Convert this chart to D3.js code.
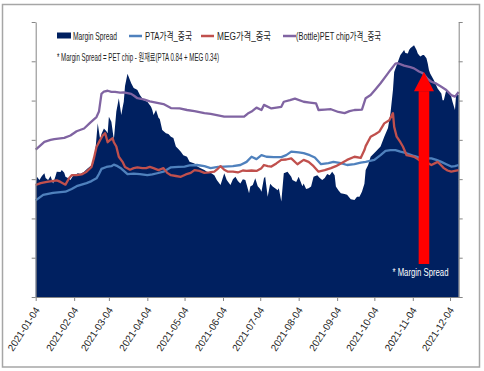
<!DOCTYPE html>
<html>
<head>
<meta charset="utf-8">
<script src="https://cdn.jsdelivr.net/npm/d3@7"></script>
<style>
body { margin: 0; background: #fff; }
text { font-family: "Liberation Sans", "Noto Sans CJK KR", sans-serif; }
</style>
</head>
<body>
<div id="chart"></div>
<script>
// values (no axis labels in the source, so units are relative)
let marginSpread = [
["2021-01-04",2850],["2021-01-05",3060],["2021-01-07",2980],["2021-01-09",3080],["2021-01-11",3150],["2021-01-12",3030],
["2021-01-14",2980],["2021-01-16",3080],["2021-01-18",2890],["2021-01-20",3080],["2021-01-21",3190],["2021-01-24",3180],
["2021-01-25",3230],["2021-01-27",3160],["2021-01-28",3060],["2021-01-30",3030],["2021-02-01",2980],["2021-02-03",3080],
["2021-02-07",3150],["2021-02-09",3130],["2021-02-12",3190],["2021-02-15",3280],["2021-02-17",3330],["2021-02-19",3360],
["2021-02-20",3490],["2021-02-21",3700],["2021-02-23",4420],["2021-02-25",4000],["2021-02-26",4150],["2021-02-28",4290],
["2021-03-02",4220],["2021-03-03",4170],["2021-03-04",4590],["2021-03-06",4460],["2021-03-08",4000],["2021-03-10",4720],
["2021-03-11",4890],["2021-03-12",5060],["2021-03-14",4630],["2021-03-15",4810],["2021-03-16",4970],["2021-03-17",5370],
["2021-03-19",5680],["2021-03-22",5440],["2021-03-24",5320],["2021-03-26",5290],["2021-03-27",5270],["2021-03-29",5140],
["2021-04-01",5010],["2021-04-04",4970],["2021-04-07",4840],["2021-04-08",4760],["2021-04-09",4630],["2021-04-11",4760],
["2021-04-13",4560],["2021-04-14",4530],["2021-04-16",4250],["2021-04-19",4170],["2021-04-21",4150],["2021-04-23",4080],
["2021-04-25",4050],["2021-04-27",3830],["2021-04-29",3770],["2021-05-01",3700],["2021-05-03",3610],["2021-05-06",3570],
["2021-05-08",3440],["2021-05-12",3400],["2021-05-14",3330],["2021-05-17",3280],["2021-05-20",3230],["2021-05-22",3190],
["2021-05-25",3160],["2021-05-28",3100],["2021-05-30",2980],["2021-06-02",2850],["2021-06-05",3150],["2021-06-07",2980],
["2021-06-10",2850],["2021-06-12",3000],["2021-06-14",3060],["2021-06-16",2950],["2021-06-18",2890],["2021-06-20",3000],
["2021-06-22",2980],["2021-06-25",2640],["2021-06-26",2810],["2021-06-28",2850],["2021-06-30",3020],["2021-07-02",2820],
["2021-07-04",2750],["2021-07-05",2680],["2021-07-07",3020],["2021-07-08",3060],["2021-07-10",2550],["2021-07-12",2880],
["2021-07-14",2810],["2021-07-16",2770],["2021-07-18",2720],["2021-07-19",2770],["2021-07-21",2430],["2021-07-23",3150],
["2021-07-26",3190],["2021-07-29",3060],["2021-07-30",2980],["2021-08-02",2930],["2021-08-04",3060],["2021-08-07",2820],
["2021-08-08",2890],["2021-08-10",2750],["2021-08-12",2770],["2021-08-14",2810],["2021-08-16",3060],["2021-08-19",3100],
["2021-08-21",3030],["2021-08-23",2980],["2021-08-25",3030],["2021-08-27",3130],["2021-08-29",3100],["2021-08-31",3190],
["2021-09-02",3100],["2021-09-03",2810],["2021-09-05",2720],["2021-09-07",2640],["2021-09-10",2620],["2021-09-12",2600],
["2021-09-15",2490],["2021-09-18",2470],["2021-09-20",2550],["2021-09-22",2550],["2021-09-24",2680],["2021-09-26",2880],
["2021-09-27",3230],["2021-09-29",3360],["2021-10-01",3570],["2021-10-05",3700],["2021-10-09",3830],["2021-10-12",4080],
["2021-10-15",4300],["2021-10-17",4680],["2021-10-19",5270],["2021-10-20",5730],["2021-10-23",5990],["2021-10-25",6160],
["2021-10-27",6240],["2021-10-28",6290],["2021-10-29",6210],["2021-10-31",6200],["2021-11-01",6290],["2021-11-02",6330],
["2021-11-05",6410],["2021-11-07",6290],["2021-11-08",6200],["2021-11-10",6120],["2021-11-12",6160],["2021-11-13",6160],
["2021-11-15",6080],["2021-11-16",5950],["2021-11-17",5780],["2021-11-18",5690],["2021-11-21",5520],["2021-11-24",5310],
["2021-11-27",5180],["2021-11-28",5010],["2021-11-29",5010],["2021-12-01",5270],["2021-12-02",5270],["2021-12-05",5100],
["2021-12-06",4970],["2021-12-08",4760],["2021-12-09",5180],["2021-12-11",5140]
];

let ptaPrice = [
["2021-01-04",2460],["2021-01-10",2600],["2021-01-13",2620],["2021-01-18",2650],["2021-01-24",2670],["2021-01-28",2680],
["2021-02-02",2750],["2021-02-06",2820],["2021-02-10",2860],["2021-02-14",2900],["2021-02-18",2950],["2021-02-22",3020],
["2021-02-24",3130],["2021-02-26",3260],["2021-03-02",3310],["2021-03-06",3330],["2021-03-08",3370],["2021-03-11",3330],
["2021-03-14",3270],["2021-03-19",3130],["2021-03-24",3140],["2021-03-29",3130],["2021-04-04",3100],["2021-04-08",3120],
["2021-04-12",3150],["2021-04-17",3190],["2021-04-23",3300],["2021-04-29",3310],["2021-05-04",3320],["2021-05-08",3350],
["2021-05-14",3360],["2021-05-20",3330],["2021-05-25",3280],["2021-05-31",3310],["2021-06-05",3320],["2021-06-12",3330],
["2021-06-18",3360],["2021-06-23",3440],["2021-06-27",3570],["2021-07-01",3510],["2021-07-05",3610],["2021-07-09",3570],
["2021-07-15",3560],["2021-07-21",3560],["2021-07-25",3610],["2021-07-29",3700],["2021-08-04",3680],["2021-08-08",3660],
["2021-08-13",3610],["2021-08-17",3550],["2021-08-22",3380],["2021-08-28",3410],["2021-09-01",3440],["2021-09-07",3410],
["2021-09-12",3360],["2021-09-18",3380],["2021-09-23",3420],["2021-09-27",3440],["2021-10-04",3490],["2021-10-09",3610],
["2021-10-13",3720],["2021-10-17",3740],["2021-10-21",3740],["2021-10-25",3700],["2021-10-30",3660],["2021-11-05",3590],
["2021-11-11",3530],["2021-11-19",3530],["2021-11-23",3490],["2021-11-27",3440],["2021-12-01",3380],["2021-12-05",3320],
["2021-12-08",3330],["2021-12-11",3360]
];

let megPrice = [
["2021-01-04",2850],["2021-01-08",2900],["2021-01-13",2930],["2021-01-17",2950],["2021-01-21",2970],["2021-01-24",2930],
["2021-01-28",2860],["2021-01-31",3030],["2021-02-02",3100],["2021-02-06",3100],["2021-02-10",3120],["2021-02-14",3190],
["2021-02-18",3310],["2021-02-20",3540],["2021-02-22",3820],["2021-02-25",4000],["2021-02-27",4110],["2021-03-01",4170],
["2021-03-03",3940],["2021-03-05",4000],["2021-03-07",4040],["2021-03-08",3940],["2021-03-10",3830],["2021-03-12",3570],
["2021-03-15",3440],["2021-03-17",3310],["2021-03-21",3240],["2021-03-24",3280],["2021-03-27",3300],["2021-03-31",3280],
["2021-04-03",3280],["2021-04-06",3310],["2021-04-09",3280],["2021-04-13",3230],["2021-04-17",3280],["2021-04-20",3160],
["2021-04-23",3100],["2021-04-27",3080],["2021-05-01",3060],["2021-05-05",3120],["2021-05-09",3160],["2021-05-12",3230],
["2021-05-16",3210],["2021-05-20",3160],["2021-05-24",3170],["2021-05-28",3190],["2021-05-31",3270],["2021-06-02",3330],
["2021-06-05",3240],["2021-06-08",3190],["2021-06-12",3190],["2021-06-16",3170],["2021-06-20",3220],["2021-06-23",3210],
["2021-06-27",3220],["2021-07-01",3210],["2021-07-05",3280],["2021-07-07",3360],["2021-07-10",3330],["2021-07-13",3320],
["2021-07-17",3400],["2021-07-21",3490],["2021-07-25",3500],["2021-07-29",3530],["2021-08-03",3380],["2021-08-08",3490],
["2021-08-12",3440],["2021-08-16",3330],["2021-08-20",3190],["2021-08-25",3230],["2021-08-30",3280],["2021-09-03",3330],
["2021-09-07",3400],["2021-09-12",3490],["2021-09-18",3570],["2021-09-23",3540],["2021-09-26",3740],["2021-09-27",3840],
["2021-10-01",4080],["2021-10-05",4150],["2021-10-08",4210],["2021-10-12",4420],["2021-10-16",4500],["2021-10-19",4680],
["2021-10-20",4330],["2021-10-22",4080],["2021-10-25",3940],["2021-10-27",3830],["2021-10-30",3610],["2021-11-02",3590],
["2021-11-05",3570],["2021-11-08",3510],["2021-11-11",3440],["2021-11-16",3410],["2021-11-19",3360],["2021-11-24",3440],
["2021-11-26",3380],["2021-11-29",3280],["2021-12-02",3220],["2021-12-05",3190],["2021-12-08",3210],["2021-12-11",3230]
];

let petChipPrice = [
["2021-01-04",3750],["2021-01-11",3950],["2021-01-16",4000],["2021-01-19",4020],["2021-01-27",4050],["2021-02-01",4110],
["2021-02-06",4220],["2021-02-12",4290],["2021-02-17",4440],["2021-02-22",4580],["2021-02-24",4720],["2021-02-26",5170],
["2021-02-28",5230],["2021-03-03",5250],["2021-03-06",5220],["2021-03-09",5220],["2021-03-13",5200],["2021-03-16",5210],
["2021-03-22",5170],["2021-03-24",5130],["2021-03-27",5060],["2021-04-01",5030],["2021-04-06",4980],["2021-04-12",4940],
["2021-04-17",4910],["2021-04-23",4810],["2021-04-30",4800],["2021-05-06",4760],["2021-05-12",4730],["2021-05-20",4680],
["2021-05-25",4660],["2021-05-30",4630],["2021-06-05",4590],["2021-06-12",4590],["2021-06-21",4590],["2021-06-24",4670],
["2021-06-27",4720],["2021-07-01",4820],["2021-07-05",4760],["2021-07-07",4890],["2021-07-13",4800],["2021-07-21",4840],
["2021-07-23",4970],["2021-07-28",5010],["2021-08-01",5050],["2021-08-08",4970],["2021-08-13",4950],["2021-08-18",4930],
["2021-08-20",4760],["2021-08-25",4770],["2021-08-30",4780],["2021-09-05",4710],["2021-09-10",4680],["2021-09-14",4730],
["2021-09-18",4760],["2021-09-24",4770],["2021-09-27",5060],["2021-10-01",5140],["2021-10-05",5290],["2021-10-09",5440],
["2021-10-13",5610],["2021-10-17",5780],["2021-10-21",5940],["2021-10-23",5950],["2021-10-28",5890],["2021-11-02",5850],
["2021-11-05",5820],["2021-11-09",5740],["2021-11-12",5700],["2021-11-16",5550],["2021-11-19",5480],["2021-11-23",5430],
["2021-11-27",5350],["2021-12-01",5270],["2021-12-05",5140],["2021-12-08",5100],["2021-12-11",5220]
];

let tickDates = ["2021-01-04","2021-02-04","2021-03-04","2021-04-04","2021-05-04","2021-06-04",
                 "2021-07-04","2021-08-04","2021-09-04","2021-10-04","2021-11-04","2021-12-04"];

let seriesNames = ["Margin Spread","PTA가격_중국","MEG가격_중국","(Bottle)PET chip가격_중국"];
let seriesColors = ["#002060","#4f81bd","#c0504d","#8064a2"];
let formulaNote = "* Margin Spread = PET chip - 원재료(PTA 0.84 + MEG 0.34)";
let arrowNote = "* Margin Spread";
// red arrow annotation: date, tip value, head base value, tail value
let arrowAt = ["2021-11-13", 5730, 5240, 840];

let width = 484, height = 371;
let margin = {top: 22, right: 25.3, bottom: 74, left: 35.7};

let parseDate = d3.timeParse("%Y-%m-%d");
let toPoints = arr => arr.map(d => ({date: parseDate(d[0]), value: d[1]}));

let svg = d3.select("#chart").append("svg")
    .attr("width", width)
    .attr("height", height);

// outer frame of the chart
svg.append("rect")
    .attr("x", 2.5).attr("y", 4.5)
    .attr("width", 477).attr("height", 362.5)
    .attr("fill", "#fff")
    .attr("stroke", "#a6a6a6")
    .attr("stroke-width", 1.5);

let x = d3.scaleTime()
    .domain([parseDate("2021-01-04"), parseDate("2021-12-11")])
    .range([margin.left, width - margin.right]);

let y = d3.scaleLinear()
    .domain([0, 7000])
    .range([height - margin.bottom, margin.top]);

// margin spread as filled area
let area = d3.area()
    .x(d => x(d.date))
    .y0(y(0))
    .y1(d => y(d.value));

svg.append("path")
    .datum(toPoints(marginSpread))
    .attr("d", area)
    .attr("fill", seriesColors[0]);

let line = d3.line()
    .x(d => x(d.date))
    .y(d => y(d.value));

[ptaPrice, megPrice, petChipPrice].forEach((s, i) =>
    svg.append("path")
    .datum(toPoints(s))
    .attr("d", line)
    .attr("fill", "none")
    .attr("stroke", seriesColors[i + 1])
    .attr("stroke-width", 2.3)
    .attr("stroke-linejoin", "round")
);

// axes without value labels
let axisColor = "#868686";

let leftAxis = svg.append("g")
    .attr("transform", "translate(" + margin.left + ",0)")
    .call(d3.axisLeft(y).ticks(7).tickSize(4).tickSizeOuter(0).tickFormat(""));

let rightAxis = svg.append("g")
    .attr("transform", "translate(" + (width - margin.right) + ",0)")
    .call(d3.axisRight(y).ticks(7).tickSize(4).tickSizeOuter(0).tickFormat(""));

let bottomAxis = svg.append("g")
    .attr("transform", "translate(0," + (height - margin.bottom) + ")")
    .call(d3.axisBottom(x).tickValues(tickDates.map(parseDate)).tickSize(4).tickSizeOuter(0).tickFormat(""));

[leftAxis, rightAxis, bottomAxis].forEach(a => {
    a.selectAll("path, line").attr("stroke", axisColor);
});

// rotated date labels
bottomAxis.selectAll(".tick")
    .append("text")
    .attr("transform", "translate(4,13) rotate(-57)")
    .attr("text-anchor", "end")
    .attr("fill", "#222")
    .style("font-size", "10px")
    .attr("textLength", 50)
    .attr("lengthAdjust", "spacingAndGlyphs")
    .text((d, i) => tickDates[i]);

// legend
let legend = svg.append("g");
let legendX = [57, 129, 201, 283];
let textX = [73, 145, 217, 296];
let textW = [44, 47, 54, 85];

legend.append("rect")
    .attr("x", legendX[0]).attr("y", 32.5)
    .attr("width", 14).attr("height", 6)
    .attr("fill", seriesColors[0]);

for (var i = 1; i < 4; i++) {
    legend.append("line")
    .attr("x1", legendX[i]).attr("x2", legendX[i] + 13)
    .attr("y1", 36).attr("y2", 36)
    .attr("stroke", seriesColors[i])
    .attr("stroke-width", 2.5);
}

seriesNames.forEach((n, i) =>
    legend.append("text")
    .attr("x", textX[i]).attr("y", 39.5)
    .style("font-size", "10.5px")
    .attr("fill", "#222")
    .attr("textLength", textW[i])
    .attr("lengthAdjust", "spacingAndGlyphs")
    .text(n)
);

svg.append("text")
    .attr("x", 57).attr("y", 61)
    .style("font-size", "10.5px")
    .attr("fill", "#222")
    .attr("textLength", 162)
    .attr("lengthAdjust", "spacingAndGlyphs")
    .text(formulaNote);

// red arrow pointing at the spread peak
let ax = x(parseDate(arrowAt[0]));
svg.append("rect")
    .attr("x", ax - 5.3).attr("y", y(arrowAt[2]))
    .attr("width", 10.6).attr("height", y(arrowAt[3]) - y(arrowAt[2]))
    .attr("fill", "#ff0000");

svg.append("path")
    .attr("d", "M" + (ax - 10) + "," + y(arrowAt[2]) + "L" + ax + "," + y(arrowAt[1]) + "L" + (ax + 10) + "," + y(arrowAt[2]) + "Z")
    .attr("fill", "#ff0000");

svg.append("text")
    .attr("x", ax - 3.5).attr("y", 275.5)
    .attr("text-anchor", "middle")
    .attr("fill", "#fff")
    .style("font-size", "11px")
    .attr("textLength", 56)
    .attr("lengthAdjust", "spacingAndGlyphs")
    .text(arrowNote);
</script>
</body>
</html>
